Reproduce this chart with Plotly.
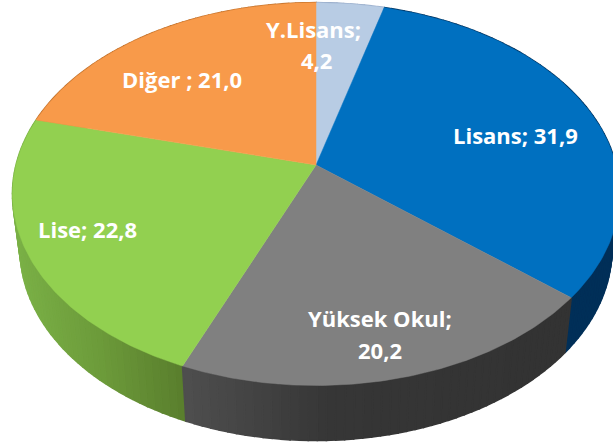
import numpy as np
import plotly.graph_objects as go

# Data
categories = ["Y.Lisans", "Lisans", "Yüksek Okul", "Lise", "Diğer"]
values = [4.2, 31.9, 20.2, 22.8, 21.0]
value_labels = ["4,2", "31,9", "20,2", "22,8", "21,0"]

# Style
top_colors = ["#b8cce4", "#0070c0", "#808080", "#92d050", "#f89a4a"]
# wall colours: (screen x, rgb) stops per slice
wall_stops = [
    [(0, (150, 170, 200)), (613, (150, 170, 200))],
    [(0, (0, 47, 88)), (613, (0, 47, 88))],
    [(185, (78, 78, 78)), (330, (54, 54, 54)), (613, (50, 50, 50))],
    [(15, (122, 176, 70)), (100, (108, 154, 58)), (187, (88, 124, 44))],
    [(0, (190, 110, 40)), (613, (190, 110, 40))],
]
label_lines = [
    (313, 29, "Y.Lisans;"), (316, 60, "4,2"),
    (515, 135, "Lisans; 31,9"),
    (380, 318, "Yüksek Okul;"), (380, 350, "20,2"),
    (87, 229, "Lise; 22,8"),
    (182, 79, "Diğer ; 21,0"),
]

CX, CY, RX, RY, K = 316, 165, 300, 187, 0.152
DEPTH, BOTTOM_SCALE = 55, 0.975


def project(theta):
    u, v = np.sin(theta), np.cos(theta)
    w = 1 + K * v
    return CX + RX * u / w, CY - RY * v / w


def wall_colour(stops, x):
    xs = [s[0] for s in stops]
    rgb = [np.interp(x, xs, [s[1][i] for s in stops]) for i in range(3)]
    return "rgb(%d,%d,%d)" % tuple(int(round(c)) for c in rgb)


fractions = np.cumsum([0] + values) / sum(values)
angles = 2 * np.pi * fractions

fig = go.Figure()

# Side walls, strip by strip, drawn under the top faces
for i in [0, 4, 1, 3, 2]:
    a0, a1 = angles[i], angles[i + 1]
    n = max(4, int((a1 - a0) / (2 * np.pi) * 240))
    t = np.linspace(a0, a1, n + 1)
    x, y = project(t)
    xb = CX + (x - CX) * BOTTOM_SCALE
    yb = y + DEPTH
    for j in range(n):
        c = wall_colour(wall_stops[i], (x[j] + x[j + 1]) / 2)
        fig.add_trace(go.Scatter(
            x=[x[j], x[j + 1], xb[j + 1], xb[j], x[j]],
            y=[y[j], y[j + 1], yb[j + 1], yb[j], y[j]],
            mode="lines", fill="toself", fillcolor=c,
            line=dict(color=c, width=1.6), hoverinfo="skip", showlegend=False))

# Top faces
for i, name in enumerate(categories):
    t = np.linspace(angles[i], angles[i + 1], 120)
    x, y = project(t)
    fig.add_trace(go.Scatter(
        x=np.r_[CX, x, CX], y=np.r_[CY, y, CY],
        mode="lines", fill="toself", fillcolor=top_colors[i],
        line=dict(color=top_colors[i], width=0.5),
        name=name, text=value_labels[i], hoverinfo="name+text", showlegend=False))

for lx, ly, txt in label_lines:
    fig.add_annotation(x=lx, y=ly, text="<b>%s</b>" % txt, showarrow=False,
                       font=dict(family="Open Sans", size=22, color="white"),
                       xanchor="center", yanchor="middle")

fig.update_layout(
    width=613, height=444, margin=dict(l=0, r=0, t=0, b=0),
    paper_bgcolor="white", plot_bgcolor="white",
    xaxis=dict(range=[0, 613], visible=False, fixedrange=True),
    yaxis=dict(range=[444, 0], visible=False, fixedrange=True),
)
fig.write_html("out.html", config=dict(displayModeBar=False),
               post_script="document.body.style.margin='0';document.body.style.overflow='hidden';")
